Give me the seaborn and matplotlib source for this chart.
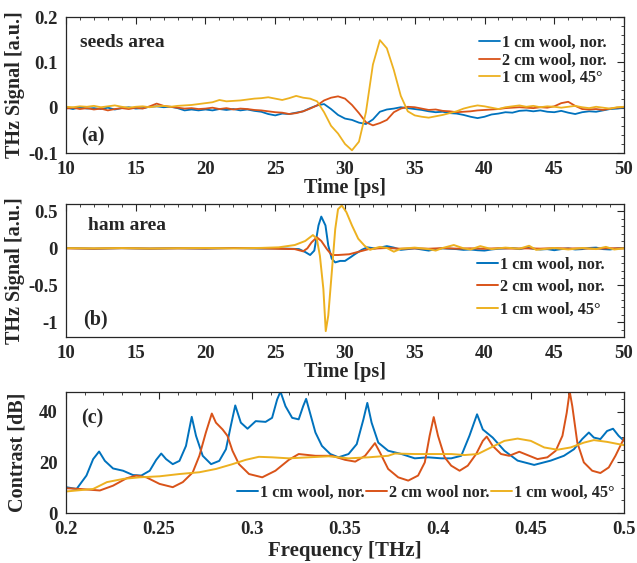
import matplotlib
matplotlib.use("Agg")
import matplotlib.pyplot as plt
import seaborn as sns
from matplotlib.ticker import MultipleLocator, FuncFormatter


BLUE = "#0072BD"
ORANGE = "#D95319"
YELLOW = "#EDB120"
LABELS_TD = ["1 cm wool, nor.", "2 cm wool, nor.", "1 cm wool, 45°"]
LABELS_FD = ["1 cm wool, nor.", "2 cm wool nor.", "1 cm wool, 45°"]

# (a) seeds area, time domain [ps] / [a.u.]
time_a = [10 + 0.5 * i for i in range(81)]
seeds_1cm = [
    0.000, -0.003, 0.001, -0.002, -0.001, -0.003, 0.000, -0.004, -0.001, 0.001,
    -0.002, -0.001, 0.002, 0.003, 0.001, 0.002, -0.001, -0.006, -0.004, -0.006,
    -0.004, -0.006, -0.003, -0.005, -0.003, -0.006, -0.004, -0.007, -0.009, -0.014,
    -0.017, -0.013, -0.014, -0.011, -0.008, -0.001, 0.005, 0.008, -0.003, -0.016,
    -0.024, -0.027, -0.033, -0.036, -0.026, -0.009, -0.004, -0.002, 0.001, -0.001,
    -0.003, -0.005, -0.008, -0.010, -0.009, -0.012, -0.013, -0.016, -0.020, -0.023,
    -0.020, -0.015, -0.013, -0.010, -0.011, -0.007, -0.006, -0.008, -0.006, -0.009,
    -0.010, -0.007, -0.011, -0.014, -0.010, -0.008, -0.009, -0.006, -0.003, -0.002,
    0.000,
]
seeds_2cm = [
    -0.002, 0.000, -0.003, -0.001, -0.004, -0.002, -0.006, -0.003, -0.001, -0.003,
    0.000, -0.002, 0.003, 0.009, 0.004, 0.002, 0.000, -0.002, -0.001, -0.003,
    -0.002, 0.000, -0.003, -0.001, -0.004, -0.002, -0.003, -0.005, -0.006, -0.008,
    -0.010, -0.011, -0.014, -0.012, -0.008, -0.002, 0.005, 0.016, 0.022, 0.025,
    0.020, 0.006, -0.012, -0.032, -0.039, -0.034, -0.027, -0.010, -0.002, 0.002,
    0.001, -0.002, -0.005, -0.004, -0.007, -0.008, -0.010, -0.009, -0.008, -0.006,
    -0.005, -0.004, -0.003, -0.001, 0.000, 0.001, 0.000, -0.001, 0.001, 0.000,
    0.003, 0.010, 0.013, 0.004, -0.003, -0.004, -0.003, -0.005, -0.002, 0.000,
    0.001,
]
seeds_45 = [
    0.002, 0.001, 0.003, 0.002, 0.004, 0.001, 0.003, 0.005, 0.002, 0.000,
    0.002, 0.003, 0.001, 0.003, 0.004, 0.002, 0.004, 0.005, 0.006, 0.008,
    0.010, 0.012, 0.017, 0.014, 0.015, 0.016, 0.018, 0.020, 0.021, 0.023,
    0.020, 0.017, 0.021, 0.026, 0.022, 0.020, 0.014, -0.010, -0.040, -0.057,
    -0.080, -0.094, -0.075, -0.010, 0.095, 0.149, 0.131, 0.083, 0.026, -0.008,
    -0.017, -0.020, -0.022, -0.019, -0.016, -0.012, -0.008, -0.002, 0.002, 0.005,
    0.003, 0.000, -0.003, 0.001, 0.003, 0.005, 0.002, 0.004, 0.001, 0.003,
    0.002, 0.000, 0.002, 0.004, 0.001, -0.001, 0.002, 0.000, -0.002, 0.001,
    0.002,
]

# (b) ham area, time domain
ham_1cm_t = [10, 12, 14, 16, 18, 20, 22, 24, 25, 26, 26.7, 27.15, 27.5, 27.8,
             28.1, 28.3, 28.6, 28.8, 29.05, 29.3, 29.65, 30, 30.4, 30.7, 31.2,
             31.6, 32.1] + [32.5 + 0.5 * i for i in range(36)]
ham_1cm = [0.005, -0.005, 0.003, -0.004, 0.002, -0.003, 0.004, -0.002, 0.0,
           -0.005, -0.01, -0.05, -0.09, -0.03, 0.31, 0.43, 0.31, 0.04, -0.14,
           -0.19, -0.17, -0.17, -0.12, -0.08, -0.02, 0.014, 0.0,
           0.01, 0.03, 0.01, -0.02, -0.01, 0.0, -0.015, -0.03, -0.01, 0.0,
           -0.005, -0.01, -0.02, -0.015, -0.025, -0.03, -0.015, -0.005, 0.0,
           0.005, -0.01, 0.01, -0.005, -0.015, -0.01, -0.025, -0.01, 0.0,
           -0.015, -0.01, 0.005, 0.01, -0.01, -0.015, 0.0, 0.005]
ham_2cm_t = [10, 12, 14, 16, 18, 20, 22, 24, 25, 26.4, 27.0, 27.3, 27.6, 27.98,
             28.3, 28.7, 29.05, 29.5, 30.3, 31.0, 31.7, 32.4] + list(range(33, 51))
ham_2cm = [0.0, -0.004, 0.002, -0.003, 0.0, -0.002, 0.003, 0.0, -0.005, -0.01,
           -0.04, 0.0, 0.08, 0.15, 0.1, -0.01, -0.09, -0.09, -0.08, -0.045,
           -0.01, 0.0,
           0.005, -0.005, 0.0, -0.005, 0.003, -0.004, 0.0, -0.006, 0.002,
           -0.003, 0.0, -0.004, 0.003, -0.002, 0.0, -0.005, 0.002, 0.0]
ham_45_t = [10, 12, 14, 16, 18, 20, 22, 24, 25.25, 26.4, 27.15, 27.7, 27.98,
            28.2, 28.45, 28.62, 28.8, 29.05, 29.3, 29.5, 29.77, 30.1, 30.5,
            30.95, 31.4, 31.8, 32.1, 32.5, 33, 33.5, 34, 35, 36, 36.5, 37, 37.8,
            38.5, 39, 39.7, 40.5, 41.5, 42.5, 43.2, 43.7, 45, 46, 47, 48, 48.7,
            49.3, 50]
ham_45 = [0.003, 0.0, 0.004, -0.002, 0.002, 0.005, 0.0, 0.006, 0.014, 0.045,
          0.1, 0.18, 0.13, -0.1, -0.55, -1.12, -0.91, -0.33, 0.26, 0.53, 0.58,
          0.49, 0.31, 0.13, 0.036, -0.02, 0.0, 0.02, 0.005, -0.045, -0.005,
          0.01, -0.01, -0.03, 0.005, 0.045, 0.0, -0.015, 0.03, -0.01, 0.01,
          -0.005, 0.035, -0.02, 0.005, -0.015, 0.005, -0.01, 0.02, -0.015, 0.0]

# (c) contrast spectra [THz] / [dB]
freq_1cm = [0.200, 0.2057, 0.211, 0.2146, 0.2178, 0.2209, 0.2253, 0.2307, 0.236,
            0.2405, 0.245, 0.2485, 0.2512, 0.2538, 0.2574, 0.261, 0.2645, 0.2676,
            0.2699, 0.2735, 0.278, 0.2824, 0.286, 0.2886, 0.291, 0.294, 0.2976,
            0.302, 0.3073, 0.3108, 0.3135, 0.3153, 0.318, 0.3216, 0.3251, 0.3275,
            0.3291, 0.3314, 0.3341, 0.3376, 0.3421, 0.3465, 0.3519, 0.3563,
            0.3599, 0.362, 0.3643, 0.3679, 0.3732, 0.3804, 0.3875, 0.3947,
            0.4018, 0.4071, 0.4125, 0.4169, 0.421, 0.4241, 0.4294, 0.4357,
            0.4428, 0.4517, 0.4606, 0.4677, 0.4731, 0.4775, 0.4811, 0.4838,
            0.4873, 0.4909, 0.4941, 0.4971, 0.5]
contrast_1cm = [10.2, 9.5, 14.8, 21.3, 24.3, 20.6, 17.6, 16.7, 15.0, 14.8, 16.7,
                21.0, 23.5, 21.3, 19.3, 20.6, 26.5, 38.0, 30.5, 22.6, 19.3, 20.6,
                25.2, 34.4, 42.5, 35.7, 33.3, 36.3, 36.0, 37.6, 44.8, 48.0, 42.2,
                37.6, 37.0, 42.2, 45.1, 39.0, 31.8, 26.5, 23.3, 22.0, 23.3, 27.2,
                37.0, 43.5, 35.7, 27.8, 24.6, 23.3, 21.6, 22.0, 21.6, 21.6, 22.6,
                30.5, 39.0, 33.0, 29.8, 24.6, 20.7, 19.0, 20.7, 22.6, 25.2, 29.2,
                31.8, 29.8, 29.2, 32.4, 33.3, 30.5, 28.5]
freq_2cm = [0.2, 0.2075, 0.2182, 0.2253, 0.2325, 0.2378, 0.2432, 0.2503, 0.2574,
            0.2628, 0.2681, 0.2717, 0.2752, 0.2784, 0.2806, 0.2842, 0.2868,
            0.2895, 0.293, 0.2984, 0.3055, 0.3126, 0.3198, 0.3251, 0.3341, 0.343,
            0.3501, 0.3555, 0.3608, 0.3643, 0.3661, 0.3688, 0.3732, 0.3786,
            0.384, 0.3893, 0.3929, 0.3955, 0.3977, 0.4, 0.4036, 0.4071, 0.4116,
            0.416, 0.4205, 0.4241, 0.4262, 0.4294, 0.4339, 0.4383, 0.4437,
            0.4491, 0.4535, 0.4588, 0.4633, 0.4669, 0.4692, 0.4708, 0.4722,
            0.4749, 0.4784, 0.4829, 0.4873, 0.4918, 0.4954, 0.5]
contrast_2cm = [9.8, 9.5, 8.9, 10.8, 13.7, 14.8, 14.1, 11.5, 10.2, 12.2, 16.0,
                22.6, 31.8, 39.3, 35.7, 33.0, 30.5, 24.6, 19.3, 15.4, 14.1, 16.7,
                21.0, 23.3, 22.6, 22.6, 21.0, 20.3, 22.6, 25.9, 27.6, 23.9, 17.4,
                14.1, 12.8, 14.8, 20.0, 30.5, 37.9, 30.5, 22.0, 18.7, 16.7, 18.7,
                23.3, 28.5, 30.2, 26.5, 23.3, 22.6, 24.2, 22.6, 21.3, 22.0, 24.6,
                30.5, 39.6, 48.0, 42.2, 27.8, 20.0, 16.7, 15.8, 18.0, 22.6, 29.5]
freq_45 = [0.2, 0.2057, 0.2146, 0.222, 0.231, 0.2396, 0.2503, 0.261, 0.2717,
           0.2806, 0.2895, 0.2966, 0.3037, 0.3108, 0.3198, 0.3304, 0.3412,
           0.3519, 0.3626, 0.3732, 0.3768, 0.3875, 0.3982, 0.4071, 0.4143,
           0.4214, 0.4285, 0.4357, 0.4428, 0.4499, 0.4571, 0.4642, 0.4713,
           0.4784, 0.4838, 0.4909, 0.5]
contrast_45 = [8.5, 8.9, 9.5, 12.2, 13.5, 14.1, 14.5, 15.4, 16.1, 17.4, 19.3,
               21.0, 22.2, 22.0, 21.6, 22.0, 22.4, 21.6, 22.0, 22.6, 23.5, 23.3,
               23.3, 23.3, 22.9, 23.3, 25.9, 28.5, 29.4, 28.5, 25.9, 25.0, 25.9,
               27.8, 28.8, 28.1, 26.8]


sns.set_style("white")
plt.rcParams["font.family"] = ["Liberation Serif", "DejaVu Serif"]
plt.rcParams["font.weight"] = "bold"
plt.rcParams["axes.labelweight"] = "bold"
plt.rcParams["axes.unicode_minus"] = False


def style_axes(ax, xmajor, xminor, ymajor, yminor):
    ax.xaxis.set_major_locator(MultipleLocator(xmajor))
    ax.xaxis.set_minor_locator(MultipleLocator(xminor))
    ax.yaxis.set_major_locator(MultipleLocator(ymajor))
    ax.yaxis.set_minor_locator(MultipleLocator(yminor))
    fmt = FuncFormatter(lambda v, p: f"{round(v, 6):g}")
    ax.xaxis.set_major_formatter(fmt)
    ax.yaxis.set_major_formatter(fmt)
    ax.tick_params(which="both", direction="in", top=True, right=True,
                   color="#262626", labelsize=13.5, pad=6)
    ax.tick_params(which="major", length=5, width=0.8)
    ax.tick_params(which="minor", length=2.5, width=0.6)
    for sp in ax.spines.values():
        sp.set_color("#262626")
        sp.set_linewidth(0.9)
        sp.set_visible(True)


def draw(ax, series, labels, lw):
    for (x, y, c), lab in zip(series, labels):
        sns.lineplot(x=x, y=y, ax=ax, color=c, lw=lw, label=lab,
                     estimator=None, sort=False)


fig = plt.figure(figsize=(6.37, 5.63), dpi=100)
ax_a = fig.add_axes([0.1036, 0.7282, 0.876, 0.2416])
ax_b = fig.add_axes([0.1036, 0.4014, 0.876, 0.2362])
ax_c = fig.add_axes([0.1036, 0.0888, 0.876, 0.2149])

# (a)
draw(ax_a, [(time_a, seeds_1cm, BLUE), (time_a, seeds_2cm, ORANGE),
            (time_a, seeds_45, YELLOW)], LABELS_TD, 1.3)
ax_a.set_xlim(10, 50)
ax_a.set_ylim(-0.1, 0.2)
style_axes(ax_a, 5, 1, 0.1, 0.02)
ax_a.set_xlabel("Time [ps]", fontsize=14.5, labelpad=0)
ax_a.set_ylabel("THz Signal [a.u.]", fontsize=14.5, labelpad=2)
ax_a.legend(loc="upper right", frameon=False, fontsize=11.7, handlelength=1.3,
            handletextpad=0.1, labelspacing=0.1, borderaxespad=0.7)
ax_a.text(0.025, 0.815, "seeds area", transform=ax_a.transAxes, fontsize=14,
          va="center")
ax_a.text(0.028, 0.12, "(a)", transform=ax_a.transAxes, fontsize=14.5,
          va="center")

# (b)
draw(ax_b, [(ham_1cm_t, ham_1cm, BLUE), (ham_2cm_t, ham_2cm, ORANGE),
            (ham_45_t, ham_45, YELLOW)], LABELS_TD, 1.4)
ax_b.set_xlim(10, 50)
ax_b.set_ylim(-1.2, 0.6)
style_axes(ax_b, 5, 1, 0.5, 0.1)
ax_b.set_xlabel("Time [ps]", fontsize=14.5, labelpad=0)
ax_b.set_ylabel("THz Signal [a.u.]", fontsize=14.5, labelpad=2)
ax_b.legend(loc="lower right", frameon=False, fontsize=11.7, handlelength=1.3,
            handletextpad=0.1, labelspacing=0.4, borderaxespad=0.8)
ax_b.text(0.04, 0.84, "ham area", transform=ax_b.transAxes, fontsize=14,
          va="center")
ax_b.text(0.03, 0.13, "(b)", transform=ax_b.transAxes, fontsize=14.5,
          va="center")

# (c)
draw(ax_c, [(freq_1cm, contrast_1cm, BLUE), (freq_2cm, contrast_2cm, ORANGE),
            (freq_45, contrast_45, YELLOW)], LABELS_FD, 1.4)
ax_c.set_xlim(0.2, 0.5)
ax_c.set_ylim(0, 47.8)
style_axes(ax_c, 0.05, 0.01, 20, 5)
ax_c.set_xlabel("Frequency [THz]", fontsize=15, labelpad=2)
ax_c.set_ylabel("Contrast [dB]", fontsize=14.5, labelpad=8)
ax_c.legend(loc="lower right", frameon=False, fontsize=11.7, ncol=3,
            handlelength=1.3, handletextpad=0.1, columnspacing=0.1,
            bbox_to_anchor=(1.0, 0.02), borderaxespad=0.2)
ax_c.text(0.028, 0.78, "(c)", transform=ax_c.transAxes, fontsize=14.5,
          va="center")

fig.patch.set_facecolor("white")
fig.savefig("out.png", dpi=100)
